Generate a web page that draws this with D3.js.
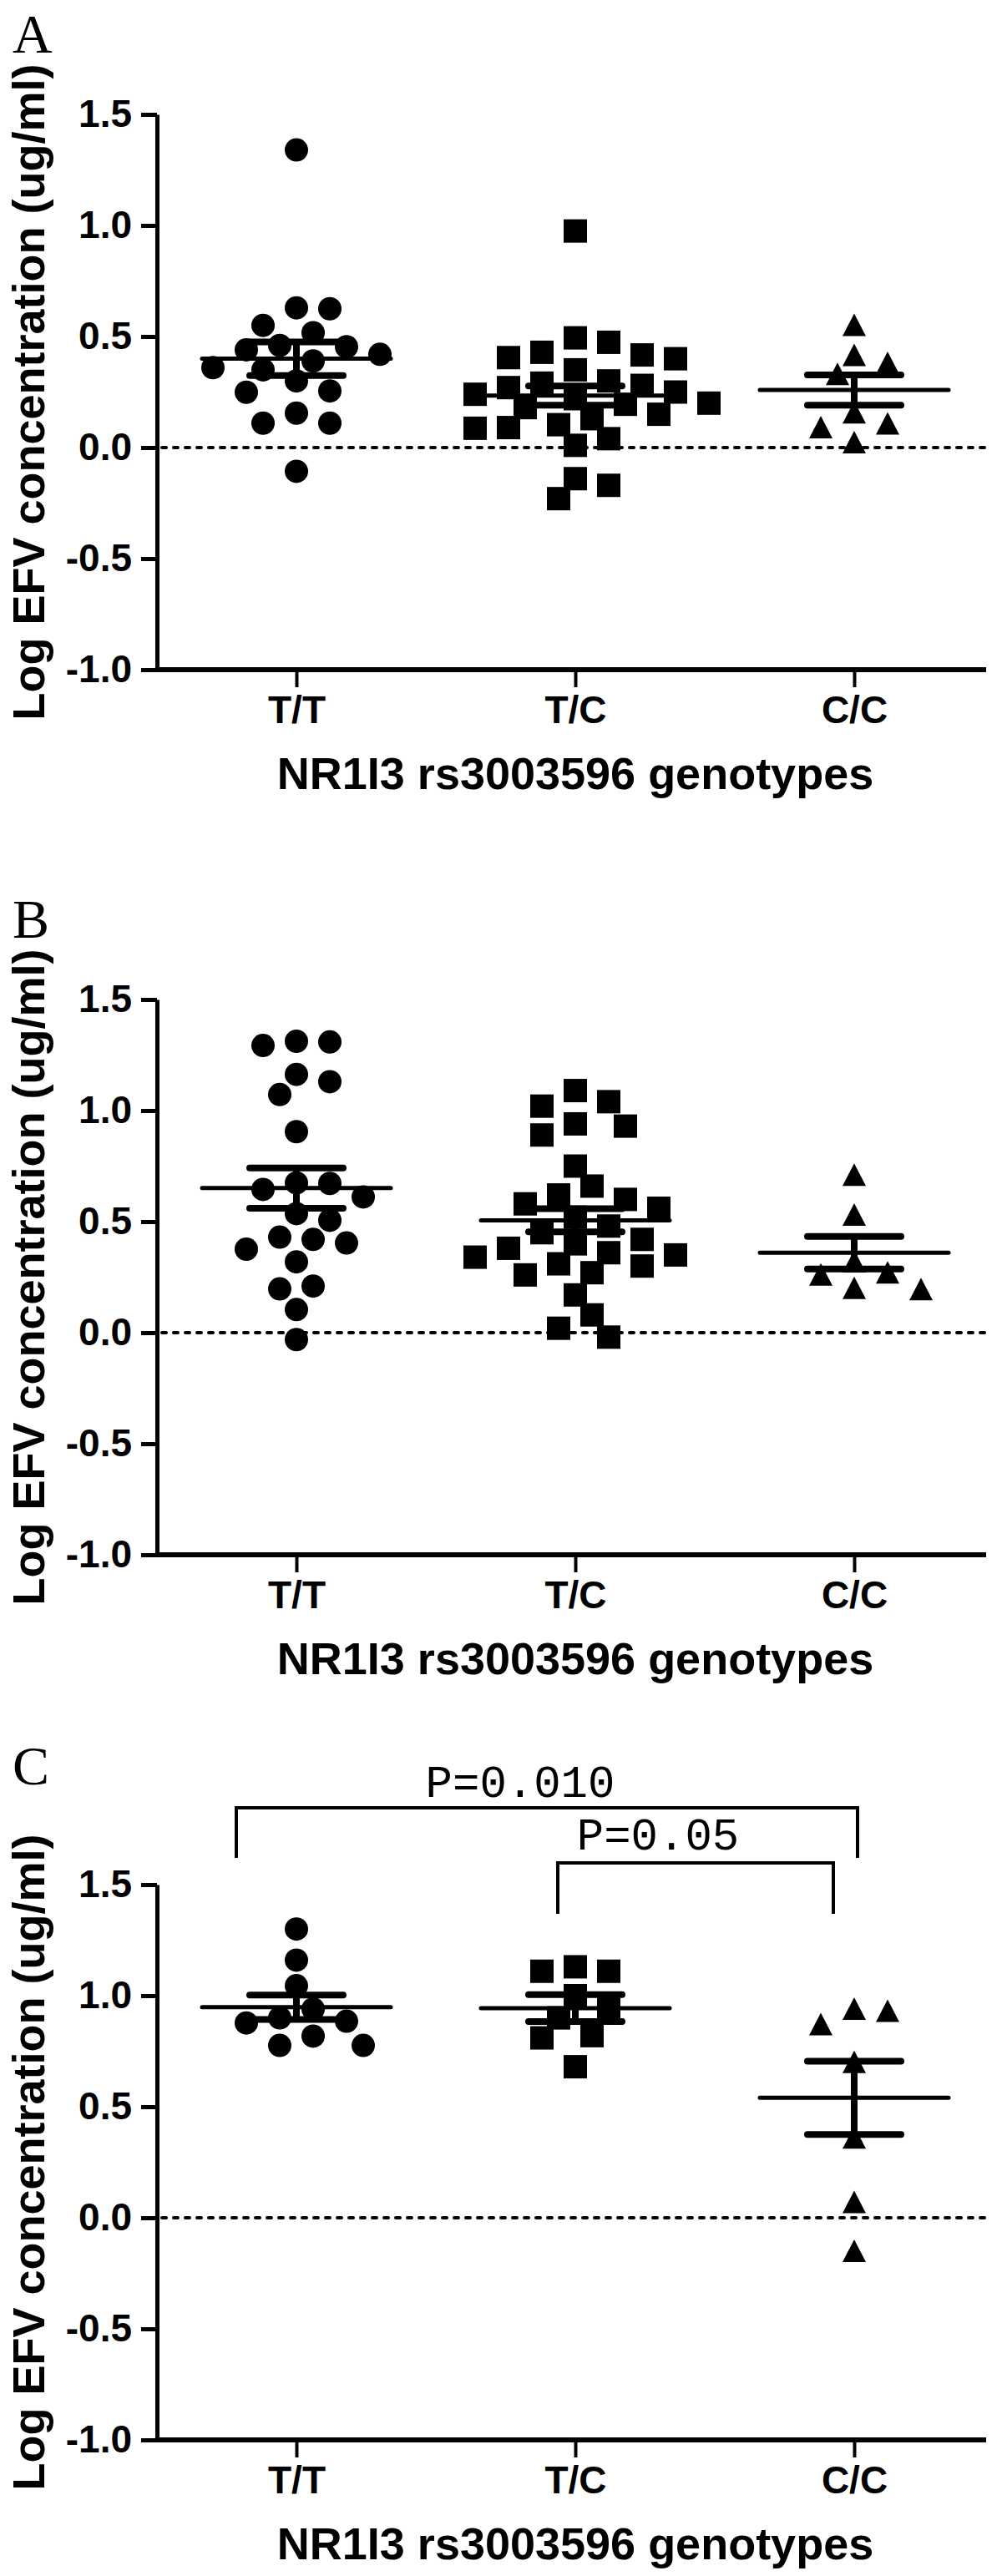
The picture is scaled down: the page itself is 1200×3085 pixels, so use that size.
<!DOCTYPE html>
<html>
<head>
<meta charset="utf-8">
<script src="https://cdn.jsdelivr.net/npm/d3@7"></script>
<style>
	body { margin: 0; background: #fff; }
	svg { display: block; }
</style>
</head>
<body>
<div class="d3-container"></div>
<script>
const categories = ["T/T", "T/C", "C/C"];
const yTicks = [-1.0, -0.5, 0.0, 0.5, 1.0, 1.5];
const panelNames = ["A", "B", "C"];
const xTitle = "NR1I3 rs3003596 genotypes";
const yTitle = "Log EFV concentration (ug/ml)";

// panel A
const ttA = [1.34, 0.629, 0.625, 0.55, 0.517, 0.46, 0.454, 0.44, 0.42, 0.39, 0.36, 0.35, 0.30, 0.255, 0.249, 0.155, 0.11, 0.11, -0.107];
const tcA = [0.975, 0.494, 0.474, 0.429, 0.417, 0.405, 0.40, 0.35, 0.30, 0.29, 0.28, 0.27, 0.25, 0.24, 0.22, 0.20, 0.195, 0.18, 0.15, 0.13, 0.103, 0.09, 0.087, 0.04, 0.01, -0.14, -0.17, -0.23];
const ccA = [0.551, 0.415, 0.38, 0.33, 0.157, 0.107, 0.09, 0.023];
const meanA = [0.40, 0.234, 0.259];
const semA = [0.076, 0.043, 0.068];

// panel B
const ttB = [1.312, 1.309, 1.293, 1.163, 1.13, 1.072, 0.905, 0.674, 0.672, 0.645, 0.611, 0.536, 0.506, 0.43, 0.42, 0.404, 0.376, 0.319, 0.21, 0.197, 0.104, -0.031];
const tcB = [1.09, 1.04, 1.02, 0.94, 0.93, 0.89, 0.75, 0.66, 0.62, 0.60, 0.58, 0.56, 0.52, 0.48, 0.45, 0.42, 0.40, 0.38, 0.36, 0.35, 0.34, 0.31, 0.30, 0.27, 0.26, 0.17, 0.08, 0.02, -0.02];
const ccB = [0.71, 0.53, 0.32, 0.27, 0.26, 0.20, 0.195];
const meanB = [0.651, 0.506, 0.36];
const semB = [0.091, 0.052, 0.073];

// panel C
const ttC = [1.30, 1.16, 1.045, 0.94, 0.90, 0.885, 0.877, 0.818, 0.776, 0.776];
const tcC = [1.13, 1.11, 1.11, 1.00, 0.95, 0.90, 0.82, 0.81, 0.68];
const ccC = [0.94, 0.93, 0.87, 0.70, 0.36, 0.07, -0.15];
const meanC = [0.948, 0.944, 0.54];
const semC = [0.055, 0.061, 0.165];

const pLabels = ["P=0.010", "P=0.05"];

const panels = [
	{name: "A", groups: [ttA, tcA, ccA], mean: meanA, sem: semA},
	{name: "B", groups: [ttB, tcB, ccB], mean: meanB, sem: semB},
	{name: "C", groups: [ttC, tcC, ccC], mean: meanC, sem: semC}
];

const width = 1200, height = 3085;
const panelTop = [137, 1197, 2257];
const axisX0 = 188, axisX1 = 1181;
const plotH = 665;
const sansFont = "'Liberation Sans', Arial, sans-serif";

const svgContainer = d3.select(".d3-container").append("svg")
	.attr("width", width)
	.attr("height", height)
	.style("background", "#fff");

svgContainer.append("rect")
	.attr("width", width)
	.attr("height", height)
	.attr("fill", "#fff");

const x = d3.scalePoint().domain(categories).range([355, 1023]);
const y = d3.scaleLinear().domain([-1, 1.5]).range([plotH, 0]);

// simple beeswarm, points packed sideways in 20px steps
const swarm = function(values, cx) {
	var placed = [];
	var sorted = values.slice().sort((a, b) => b - a);
	return sorted.map((v) => {
		var py = y(v);
		var off = 0;
		for (var k = 0; k < 40; k++) {
			var cand = k === 0 ? 0 : (k % 2 ? 1 : -1) * Math.ceil(k / 2) * 20;
			var ok = placed.every((p) => Math.hypot(p.x - cand, p.y - py) >= 30);
			if (ok) { off = cand; break; }
		}
		placed.push({x: off, y: py});
		return {v: v, x: cx + off, y: py};
	});
}

const markers = [
	(sel) => sel.append("circle").attr("r", 14),
	(sel) => sel.append("rect").attr("x", -14).attr("y", -14).attr("width", 28).attr("height", 28),
	(sel) => sel.append("path").attr("d", "M0,-14L14,13L-14,13Z")
];

const drawPanel = function(p, i) {
	var g = svgContainer.append("g")
		.attr("transform", "translate(0," + panelTop[i] + ")");

	// panel letter
	g.append("text")
		.attr("x", 15)
		.attr("y", i === 2 ? -120 : -74)
		.attr("font-family", "'Liberation Serif', 'Times New Roman', serif")
		.attr("font-size", "66px")
		.attr("fill", "#000")
		.text(p.name);

	// y axis
	var yAxis = g.append("g")
		.attr("transform", "translate(" + axisX0 + ",0)")
		.call(d3.axisLeft(y)
			.tickValues(yTicks)
			.tickFormat((d) => d.toFixed(1))
			.tickSize(19)
			.tickSizeOuter(0)
			.tickPadding(11));
	yAxis.select(".domain").attr("stroke-width", 5).attr("stroke", "#000");
	yAxis.selectAll(".tick line").attr("stroke-width", 5).attr("stroke", "#000");
	yAxis.selectAll(".tick text")
		.attr("font-family", sansFont)
		.attr("font-weight", "bold")
		.attr("font-size", "46px")
		.attr("fill", "#000");

	// x axis
	var xAxis = g.append("g")
		.attr("transform", "translate(0," + plotH + ")")
		.call(d3.axisBottom(x).tickSize(21).tickPadding(10));
	xAxis.select(".domain").remove();
	xAxis.selectAll(".tick line").attr("stroke-width", 4).attr("stroke", "#000");
	xAxis.selectAll(".tick text")
		.attr("font-family", sansFont)
		.attr("font-weight", "bold")
		.attr("font-size", "46px")
		.attr("fill", "#000");
	g.append("line")
		.attr("x1", axisX0 - 2)
		.attr("x2", axisX1)
		.attr("y1", plotH)
		.attr("y2", plotH)
		.attr("stroke", "#000")
		.attr("stroke-width", 6);

	// titles
	g.append("text")
		.attr("x", (x("T/T") + x("C/C")) / 2)
		.attr("y", plotH + 143)
		.attr("text-anchor", "middle")
		.attr("font-family", sansFont)
		.attr("font-weight", "bold")
		.attr("font-size", "54px")
		.attr("fill", "#000")
		.text(xTitle);
	g.append("text")
		.attr("transform", "translate(53," + (plotH / 2) + ") rotate(-90)")
		.attr("text-anchor", "middle")
		.attr("font-family", sansFont)
		.attr("font-weight", "bold")
		.attr("font-size", "54px")
		.attr("fill", "#000")
		.text(yTitle);

	// zero line
	g.append("line")
		.attr("x1", axisX0 + 6)
		.attr("x2", axisX1)
		.attr("y1", y(0))
		.attr("y2", y(0))
		.attr("stroke", "#000")
		.attr("stroke-width", 4)
		.attr("stroke-linecap", "round")
		.attr("stroke-dasharray", "5,9");

	// points
	p.groups.forEach((vals, j) => {
		var pts = swarm(vals, x(categories[j]));
		var sel = g.append("g").selectAll("g.pt")
			.data(pts)
			.enter()
			.append("g")
			.attr("class", "pt")
			.attr("transform", (d) => "translate(" + d.x + "," + d.y + ")")
			.attr("fill", "#000");
		markers[j](sel);
	});

	// mean and SEM
	categories.forEach((c, j) => {
		var cx = x(c);
		var m = p.mean[j], s = p.sem[j];
		g.append("line")
			.attr("x1", cx - 113).attr("x2", cx + 113)
			.attr("y1", y(m)).attr("y2", y(m))
			.attr("stroke", "#000").attr("stroke-width", 5).attr("stroke-linecap", "round");
		g.append("line")
			.attr("x1", cx).attr("x2", cx)
			.attr("y1", y(m + s)).attr("y2", y(m - s))
			.attr("stroke", "#000").attr("stroke-width", 8);
		[m + s, m - s].forEach((v) => {
			g.append("line")
				.attr("x1", cx - 56).attr("x2", cx + 56)
				.attr("y1", y(v)).attr("y2", y(v))
				.attr("stroke", "#000").attr("stroke-width", 8).attr("stroke-linecap", "round");
		});
	});
	return g;
}

var gs = panels.map(drawPanel);

// significance brackets on panel C
const gC = gs[2];
const brackets = [
	{x1: x("T/T") - 72, x2: x("C/C") + 4, top: -92, bottom: -32, tx: x("T/C") - 66, ty: -105, label: pLabels[0]},
	{x1: x("T/C") - 21, x2: x("C/C") - 25, top: -26, bottom: 35, tx: x("T/C") + 99, ty: -42, label: pLabels[1]}
];
brackets.forEach((b) => {
	gC.append("path")
		.attr("d", "M" + b.x1 + "," + b.bottom + "V" + b.top + "H" + b.x2 + "V" + b.bottom)
		.attr("fill", "none")
		.attr("stroke", "#000")
		.attr("stroke-width", 4);
	gC.append("text")
		.attr("x", b.tx)
		.attr("y", b.ty)
		.attr("text-anchor", "middle")
		.attr("font-family", "'Liberation Mono', 'Courier New', monospace")
		.attr("font-size", "54px")
		.attr("fill", "#000")
		.text(b.label);
});
</script>
</body>
</html>
